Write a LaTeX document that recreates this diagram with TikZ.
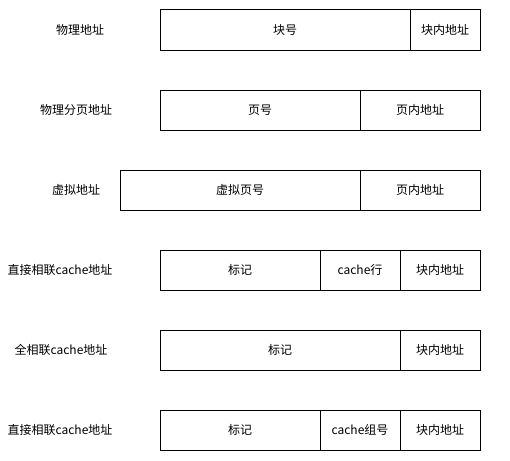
\documentclass[tikz,border=0pt]{standalone}
\usepackage{fontspec}
\setmainfont{Noto Sans CJK SC}
\usetikzlibrary{positioning}

\begin{document}
\begin{tikzpicture}[x=1pt,y=1pt,
  field/.style={draw, line width=1pt, minimum height=40pt, inner sep=0pt, font=\fontsize{12}{14}\selectfont},
  addrlabel/.style={font=\fontsize{12}{14}\selectfont}]
\useasboundingbox (0,0) rectangle (510,-460);

% Physical address
\node[addrlabel] (phys) at (80,-30) {物理地址};
\node[field, minimum width=250pt] (physblk) at (285,-30) {块号};
\node[field, minimum width=70pt] (physoff) at (445,-30) {块内地址};

% Physical paged address
\node[addrlabel] (page) at (76,-110) {物理分页地址};
\node[field, minimum width=200pt] (pagenum) at (260,-110) {页号};
\node[field, minimum width=120pt] (pageoff) at (420,-110) {页内地址};

% Virtual address
\node[addrlabel] (virt) at (76,-190) {虚拟地址};
\node[field, minimum width=240pt] (virtnum) at (240,-190) {虚拟页号};
\node[field, minimum width=120pt] (virtoff) at (420,-190) {页内地址};

% Direct mapped cache address
\node[addrlabel] (direct) at (60,-270) {直接相联cache地址};
\node[field, minimum width=160pt] (directtag) at (240,-270) {标记};
\node[field, minimum width=80pt] (directline) at (360,-270) {cache行};
\node[field, minimum width=80pt] (directoff) at (440,-270) {块内地址};

% Fully associative cache address
\node[addrlabel] (full) at (61,-350) {全相联cache地址};
\node[field, minimum width=240pt] (fulltag) at (280,-350) {标记};
\node[field, minimum width=80pt] (fulloff) at (440,-350) {块内地址};

% Set associative cache address
\node[addrlabel] (assoc) at (60,-430) {直接相联cache地址};
\node[field, minimum width=160pt] (assoctag) at (240,-430) {标记};
\node[field, minimum width=80pt] (assocset) at (360,-430) {cache组号};
\node[field, minimum width=80pt] (assocoff) at (440,-430) {块内地址};
\end{tikzpicture}
\end{document}
